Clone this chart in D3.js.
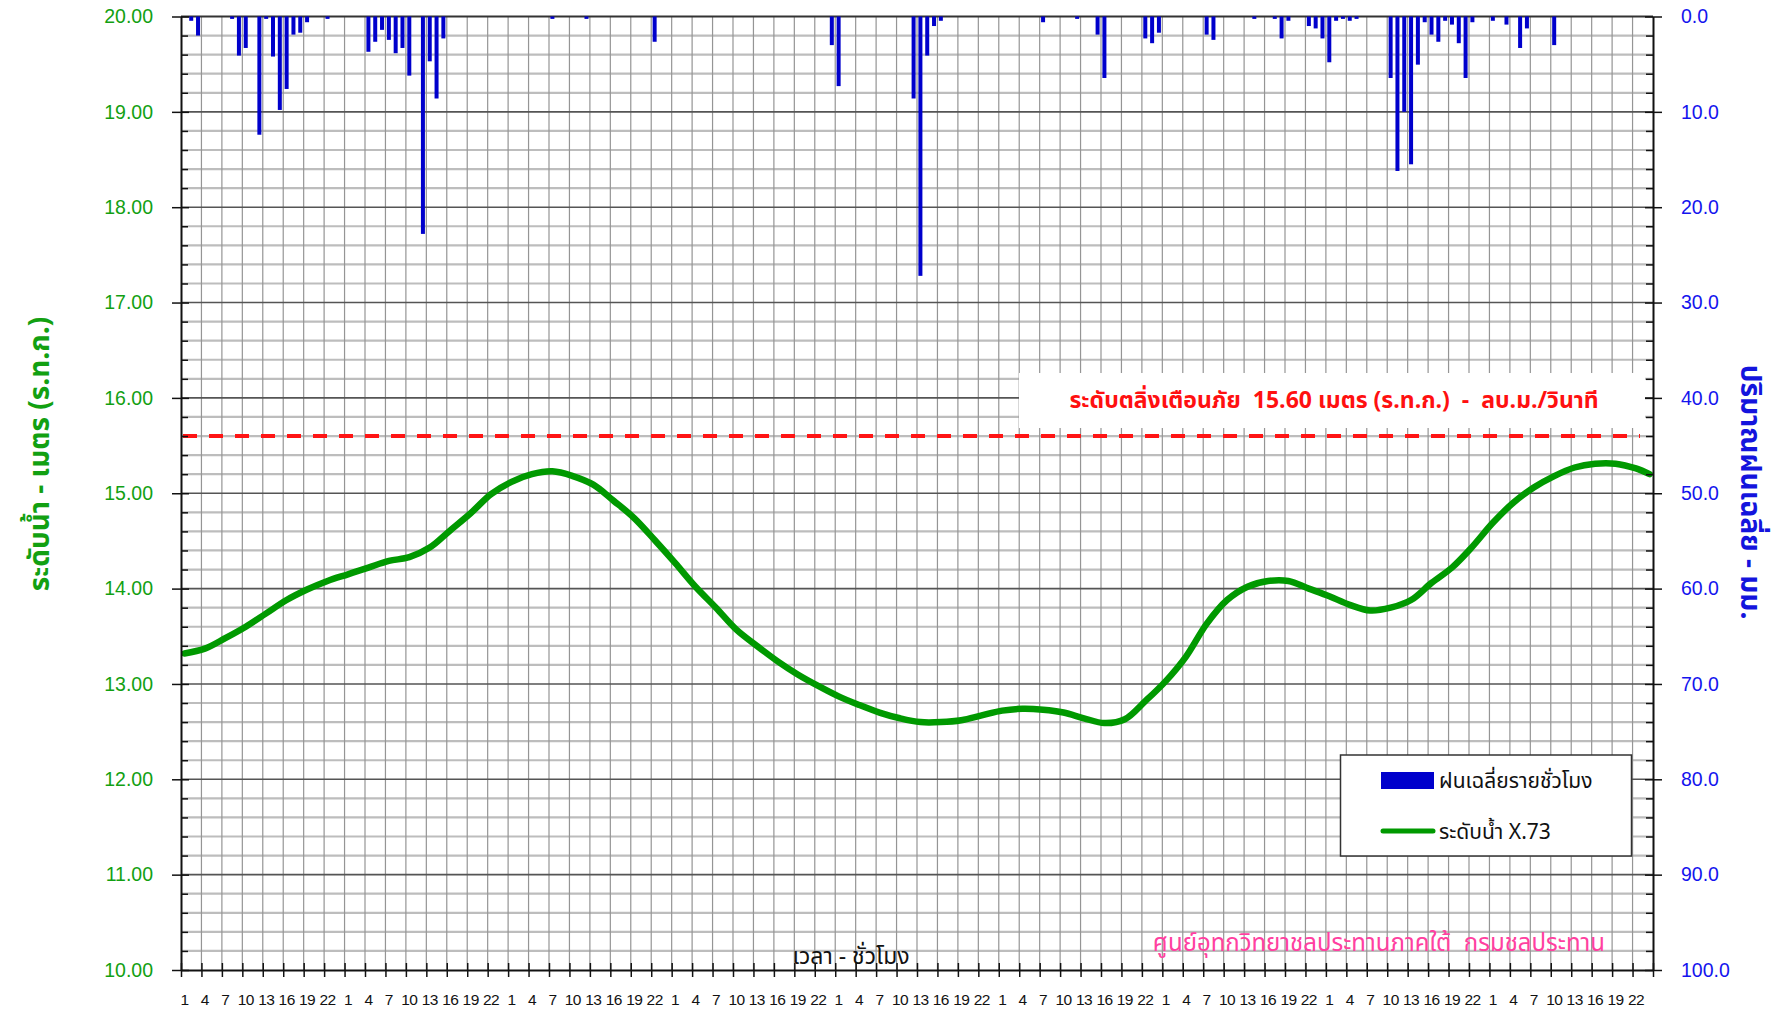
<!DOCTYPE html>
<html><head><meta charset="utf-8">
<script src="https://cdn.jsdelivr.net/npm/d3@7"></script>
<style>
body{margin:0;background:#fff}
svg{display:block}
text{font-family:"Liberation Sans",Arial,sans-serif;white-space:pre}
.thai{font-family:Tahoma,"Noto Sans Thai","Loma","Garuda","Liberation Sans",sans-serif}
</style>
</head><body>
<svg id="c" width="1781" height="1010"></svg>
<script>
// ---------- data ----------
const nHours = 216;                       // 9 days x 24 hours
const hourLabels = [1,4,7,10,13,16,19,22];
const levelTicks = [10,11,12,13,14,15,16,17,18,19,20];
const rainTicks = [0,10,20,30,40,50,60,70,80,90,100];
const warningLevel = 15.60;

// hourly rainfall (index of hour from start, mm)
const rainHours  = [1,2,7,8,9,11,12,13,14,15,16,17,18,21,27,28,29,30,31,32,33,35,36,37,38,54,59,69,95,96,
                    107,108,109,110,111,126,131,134,135,141,142,143,150,151,157,160,161,162,165,166,167,168,169,170,171,172,
                    177,178,179,180,181,182,183,184,185,186,187,188,189,192,194,196,197,201];
const rainValues = [0.45,2.0,0.25,4.1,3.3,12.4,0.25,4.2,9.8,7.6,1.9,1.7,0.6,0.25,3.7,2.65,1.4,2.45,3.85,3.3,6.2,22.8,4.7,8.6,2.3,0.25,0.25,2.65,3.0,7.3,
                    8.6,27.2,4.1,1.0,0.45,0.6,0.25,1.9,6.45,2.3,2.8,1.7,1.9,2.45,0.25,0.25,2.3,0.45,1.0,1.25,2.3,4.8,0.45,0.25,0.45,0.25,
                    6.45,16.2,10.0,15.5,5.05,0.6,1.9,2.65,0.45,0.85,2.8,6.45,0.6,0.45,0.85,3.3,1.25,3.0];

// water level X.73 (metres, MSL) read every 3 hours
const levelHours  = [0,3,6,9,12,15,18,21,24,27,30,33,36,39,42,45,48,51,54,57,60,63,66,69,72,75,78,81,84,87,90,93,96,99,102,105,
                     108,111,114,117,120,123,126,129,132,135,138,141,144,147,150,153,156,159,162,165,168,171,174,177,180,183,186,189,192,195,198,201,204,207,210,213,215];
const levelValues = [13.32,13.37,13.48,13.60,13.74,13.88,13.99,14.08,14.15,14.22,14.29,14.33,14.43,14.61,14.79,14.99,15.12,15.20,15.23,15.18,15.09,14.92,14.74,14.51,14.27,14.02,13.80,13.57,13.40,13.24,13.10,12.98,12.87,12.78,12.70,12.64,
                     12.60,12.60,12.62,12.67,12.72,12.74,12.73,12.70,12.64,12.59,12.63,12.82,13.03,13.29,13.63,13.88,14.02,14.08,14.08,14.00,13.92,13.83,13.77,13.80,13.88,14.06,14.22,14.44,14.69,14.90,15.06,15.18,15.27,15.31,15.31,15.26,15.20];

const yLeftTitle = "ระดับน้ำ - เมตร (ร.ท.ก.)";
const yRightTitle = "ปริมาณฝนเฉลี่ย - มม.";
const xTitle = "เวลา - ชั่วโมง";
const warningText = "ระดับตลิ่งเตือนภัย  15.60 เมตร (ร.ท.ก.)  -  ลบ.ม./วินาที";
const creditText = "ศูนย์อุทกวิทยาชลประทานภาคใต้  กรมชลประทาน";
const legendRain = "ฝนเฉลี่ยรายชั่วโมง";
const legendLevel = "ระดับน้ำ X.73";

// ---------- layout ----------
const L = 181, R = 1653, T = 16.5, B = 970;
const svg = d3.select("#c");

const xb = d3.scaleBand().domain(d3.range(nHours)).range([L, R]).paddingInner(0).paddingOuter(0);
const xl = d3.scaleLinear().domain([0, nHours]).range([L, R]);
const bw = xb.bandwidth();
const yL = d3.scaleLinear().domain([10, 20]).range([B, T]);
const yR = d3.scaleLinear().domain([0, 100]).range([T, B]);

// ---------- grid ----------
const grid = svg.append("g");
const minors = d3.range(10, 20.001, 0.2).map(v => +v.toFixed(1)).filter(v => Math.abs(v - Math.round(v)) > 1e-6);
grid.selectAll(".hmin").data(minors).join("line")
  .attr("x1", L).attr("x2", R).attr("y1", d => yL(d)).attr("y2", d => yL(d))
  .attr("stroke", "#bdbdbd").attr("stroke-width", 2.2);
grid.selectAll(".vg").data(d3.range(3, nHours, 3)).join("line")
  .attr("x1", d => xl(d)).attr("x2", d => xl(d)).attr("y1", T).attr("y2", B)
  .attr("stroke", "#959595").attr("stroke-width", 1.2);
grid.selectAll(".hmaj").data(levelTicks.slice(1, -1)).join("line")
  .attr("x1", L).attr("x2", R).attr("y1", d => yL(d)).attr("y2", d => yL(d))
  .attr("stroke", "#555").attr("stroke-width", 1.6);
grid.append("line").attr("x1", L).attr("x2", R).attr("y1", T).attr("y2", T)
  .attr("stroke", "#333").attr("stroke-width", 2);

// warning label box
svg.append("rect").attr("x", 1019).attr("y", 373).attr("width", 626).attr("height", 55).attr("fill", "#fff");
svg.append("text").attr("x", 1334).attr("y", 408).attr("text-anchor", "middle")
  .attr("class", "thai").attr("font-size", 23).attr("font-weight", "bold").attr("fill", "#ff1010")
  .text(warningText);

// warning dashed line
svg.append("line").attr("x1", L + 2).attr("x2", 1640).attr("y1", yL(warningLevel)).attr("y2", yL(warningLevel))
  .attr("stroke", "#ff1414").attr("stroke-width", 4).attr("stroke-dasharray", "14,12");

// ---------- rain bars ----------
const rain = rainHours.map((h, i) => ({h, v: rainValues[i]}));
svg.append("g").selectAll("rect").data(rain).join("rect")
  .attr("x", d => xb(d.h) + bw / 2 - 2).attr("width", 4)
  .attr("y", yR(0)).attr("height", d => yR(d.v) - yR(0))
  .attr("fill", "#0000cc");

// ---------- water level ----------
const level = levelHours.map((h, i) => ({h, v: levelValues[i]}));
svg.append("path").datum(level)
  .attr("d", d3.line().x(d => xb(d.h) + bw / 2).y(d => yL(d.v)).curve(d3.curveCatmullRom))
  .attr("fill", "none").attr("stroke", "#009900").attr("stroke-width", 6.5)
  .attr("stroke-linejoin", "round").attr("stroke-linecap", "round");

// ---------- axes ----------
const fmtL = d3.format(".2f"), fmtR = d3.format(".1f");
const gl = svg.append("g").attr("transform", `translate(${L},0)`)
  .call(d3.axisLeft(yL).tickValues(levelTicks).tickFormat(fmtL).tickSizeInner(9).tickSizeOuter(0).tickPadding(19));
gl.selectAll(".tick line").attr("x1", 8).attr("stroke", "#111").attr("stroke-width", 1.5);
gl.selectAll(".tick text").attr("font-size", 19.5).attr("fill", "#12a012");
gl.select(".domain").attr("stroke", "#111").attr("stroke-width", 2);
svg.append("g").attr("transform", `translate(${L},0)`)
  .call(d3.axisRight(yL).tickValues(minors).tickFormat("").tickSizeInner(7).tickSizeOuter(0))
  .call(g => g.select(".domain").remove())
  .selectAll("line").attr("stroke", "#111").attr("stroke-width", 1.5);

const gr = svg.append("g").attr("transform", `translate(${R},0)`)
  .call(d3.axisRight(yR).tickValues(rainTicks).tickFormat(fmtR).tickSizeInner(9).tickSizeOuter(0).tickPadding(19));
gr.selectAll(".tick line").attr("x1", -8).attr("stroke", "#111").attr("stroke-width", 1.5);
gr.selectAll(".tick text").attr("font-size", 19.5).attr("fill", "#1414ee");
gr.select(".domain").attr("stroke", "#111").attr("stroke-width", 2);
svg.append("g").attr("transform", `translate(${R},0)`)
  .call(d3.axisLeft(yL).tickValues(minors).tickFormat("").tickSizeInner(7).tickSizeOuter(0))
  .call(g => g.select(".domain").remove())
  .selectAll("line").attr("stroke", "#111").attr("stroke-width", 1.5);

const gb = svg.append("g").attr("transform", `translate(0,${B})`)
  .call(d3.axisBottom(xl).tickValues(d3.range(0, nHours + 1, 3)).tickFormat("").tickSizeInner(7).tickSizeOuter(0));
gb.selectAll(".tick line").attr("y1", -7).attr("stroke", "#111").attr("stroke-width", 1.5);
gb.select(".domain").attr("stroke", "#111").attr("stroke-width", 2);
const gbl = svg.append("g").attr("transform", `translate(0,${B})`)
  .call(d3.axisBottom(xb).tickValues(d3.range(0, nHours, 3)).tickFormat(d => hourLabels[(d % 24) / 3]).tickSize(0).tickPadding(24));
gbl.select(".domain").remove();
gbl.selectAll("text").attr("font-size", 15.5).attr("fill", "#111").attr("letter-spacing", "-0.6");

// ---------- titles ----------
svg.append("text").attr("class", "thai").attr("transform", "translate(49,454) rotate(-90)")
  .attr("text-anchor", "middle").attr("font-size", 28).attr("font-weight", "bold").attr("fill", "#12a012")
  .text(yLeftTitle);
svg.append("text").attr("class", "thai").attr("transform", "translate(1741,492) rotate(90)")
  .attr("text-anchor", "middle").attr("font-size", 28).attr("font-weight", "bold").attr("fill", "#1414dd")
  .text(yRightTitle);
svg.append("text").attr("class", "thai").attr("x", 851).attr("y", 964).attr("text-anchor", "middle")
  .attr("font-size", 23).attr("fill", "#111").text(xTitle);
svg.append("text").attr("class", "thai").attr("x", 1605).attr("y", 951).attr("text-anchor", "end")
  .attr("font-size", 24).attr("fill", "#ff40a0").text(creditText);

// ---------- legend ----------
const lg = svg.append("g");
lg.append("rect").attr("x", 1340.5).attr("y", 755).attr("width", 291).attr("height", 101)
  .attr("fill", "#fff").attr("stroke", "#333").attr("stroke-width", 1.5);
lg.append("rect").attr("x", 1381).attr("y", 772).attr("width", 53).attr("height", 17).attr("fill", "#0000cc");
lg.append("text").attr("class", "thai").attr("x", 1439).attr("y", 788).attr("font-size", 21).attr("fill", "#111").text(legendRain);
lg.append("line").attr("x1", 1383).attr("x2", 1433).attr("y1", 831).attr("y2", 831)
  .attr("stroke", "#009900").attr("stroke-width", 5).attr("stroke-linecap", "round");
lg.append("text").attr("class", "thai").attr("x", 1439).attr("y", 839).attr("font-size", 21).attr("fill", "#111").text(legendLevel);
</script>
</body></html>
